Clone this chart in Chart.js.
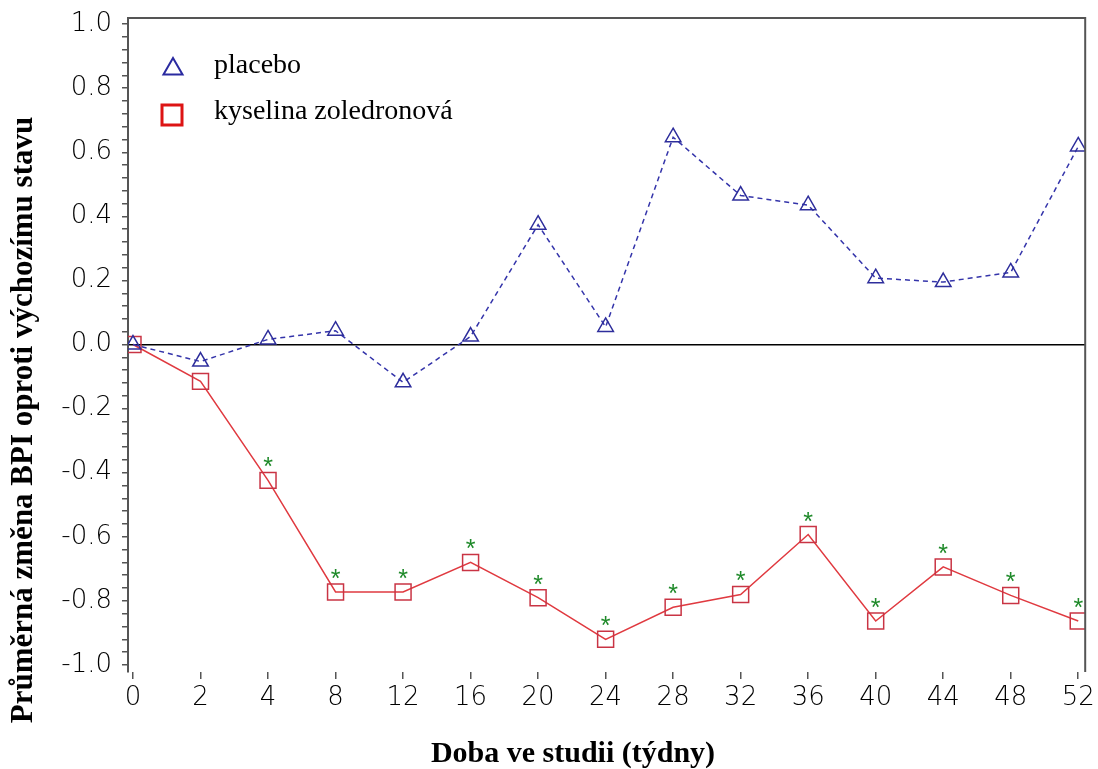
<!DOCTYPE html>
<html>
<head>
<meta charset="utf-8">
<script src="https://cdn.jsdelivr.net/npm/chart.js@4.4.1/dist/chart.umd.min.js"></script>
<style>
  body { margin: 0; background: #fff; }
  #wrap { width: 1098px; height: 769px; }
</style>
</head>
<body>
<div id="wrap"><canvas id="chart" width="1098" height="769"></canvas></div>
<script>
// week labels on the x axis (evenly spaced categories)
const weeks = ['0', '2', '4', '8', '12', '16', '20', '24', '28', '32', '36', '40', '44', '48', '52'];
// mean change of BPI from baseline
const placebo = [0, -0.053, 0.016, 0.043, -0.118, 0.025, 0.374, 0.055, 0.647, 0.465, 0.435, 0.207, 0.195, 0.225, 0.618];
const zoledronic = [0, -0.115, -0.424, -0.772, -0.772, -0.68, -0.79, -0.92, -0.82, -0.78, -0.593, -0.863, -0.694, -0.783, -0.863];
// green asterisk above the zoledronic point
const significant = [false, false, true, true, true, true, true, true, true, true, true, true, true, true, true];
const legendNames = ['placebo', 'kyselina zoledronová'];
const xTitle = 'Doba ve studii (týdny)';
const yTitle = 'Průměrná změna BPI oproti výchozímu stavu';

const blue = '#3434aa';
const red = '#e03a40';
const tickFont = { family: 'DejaVu Sans', size: 26, weight: 200 };

const extras = {
  id: 'extras',
  afterDraw(chart) {
    const { ctx, chartArea: a } = chart;
    ctx.save();

    // top and right frame
    ctx.strokeStyle = '#555';
    ctx.lineWidth = 2;
    ctx.beginPath();
    ctx.moveTo(a.left, a.top);
    ctx.lineTo(a.right, a.top);
    ctx.lineTo(a.right, a.bottom);
    ctx.stroke();

    // asterisks
    const meta = chart.getDatasetMeta(1);
    ctx.fillStyle = '#1f8a2a';
    ctx.font = '25px "Liberation Sans"';
    ctx.textAlign = 'center';
    ctx.textBaseline = 'alphabetic';
    meta.data.forEach((pt, i) => {
      if (significant[i]) ctx.fillText('*', pt.x, pt.y - 5);
    });

    // legend
    ctx.strokeStyle = '#2a2aa0';
    ctx.lineWidth = 2;
    const tx = 173, ty = 69, r = 11;
    ctx.beginPath();
    ctx.moveTo(tx, ty - r);
    ctx.lineTo(tx + r * Math.sin(Math.PI * 2 / 3), ty + r / 2);
    ctx.lineTo(tx - r * Math.sin(Math.PI * 2 / 3), ty + r / 2);
    ctx.closePath();
    ctx.stroke();
    ctx.strokeStyle = '#dd1414';
    ctx.lineWidth = 3;
    ctx.strokeRect(162, 105, 20, 20);

    ctx.fillStyle = '#000';
    ctx.textAlign = 'left';
    ctx.font = '28px "Liberation Serif"';
    ctx.fillText(legendNames[0], 214, 73);
    ctx.fillText(legendNames[1], 214, 119);

    // axis titles
    ctx.font = 'bold 30px "Liberation Serif"';
    ctx.textAlign = 'center';
    ctx.fillText(xTitle, 573, 762);
    ctx.font = 'bold 31px "Liberation Serif"';
    ctx.translate(32, 420);
    ctx.rotate(-Math.PI / 2);
    ctx.fillText(yTitle, 0, 0);
    ctx.restore();
  }
};

new Chart(document.getElementById('chart'), {
  type: 'line',
  data: {
    datasets: [
      {
        label: legendNames[0],
        data: placebo.map((v, i) => ({ x: i, y: v })),
        borderColor: blue,
        borderWidth: 1.5,
        borderDash: [5, 4],
        pointStyle: 'triangle',
        pointRadius: 9,
        pointBorderColor: '#2e2e9c',
        pointBorderWidth: 1.5,
        pointBackgroundColor: 'rgba(0,0,0,0)',
        tension: 0
      },
      {
        label: legendNames[1],
        data: zoledronic.map((v, i) => ({ x: i, y: v })),
        borderColor: red,
        borderWidth: 1.5,
        pointStyle: 'rect',
        pointRadius: 11.3,
        pointBorderColor: '#c93444',
        pointBorderWidth: 1.5,
        pointBackgroundColor: 'rgba(0,0,0,0)',
        tension: 0
      }
    ]
  },
  options: {
    responsive: false,
    animation: false,
    layout: { padding: { top: 18, right: 11, left: 0, bottom: 0 } },
    plugins: { legend: { display: false }, tooltip: { enabled: false } },
    scales: {
      x: {
        type: 'linear',
        min: -0.074,
        max: 14.103,
        border: { display: false },
        grid: { drawOnChartArea: false, tickLength: 7, tickColor: '#555', lineWidth: 1.5 },
        ticks: {
          stepSize: 1,
          includeBounds: false,
          autoSkip: false,
          maxRotation: 0,
          padding: 4,
          color: '#000',
          font: tickFont,
          callback: v => weeks[v] ?? ''
        },
        afterFit(scale) {
          scale.height = 97;
          scale.paddingLeft = 0;
          scale.paddingRight = 0;
        }
      },
      y: {
        min: -1.022,
        max: 1.019,
        border: { display: true, color: '#555', width: 2 },
        grid: {
          color: ctx => (ctx.tick && Math.abs(ctx.tick.value) < 1e-9 ? '#000' : 'rgba(0,0,0,0)'),
          lineWidth: 1.5,
          tickColor: '#555',
          tickLength: 6
        },
        ticks: {
          stepSize: 0.04,
          includeBounds: false,
          autoSkip: false,
          padding: 10,
          color: '#000',
          font: tickFont,
          callback: v => (Math.abs(v * 5 - Math.round(v * 5)) < 1e-6 ? v.toFixed(1) : '')
        },
        afterFit(scale) {
          scale.width = 128;
          scale.paddingTop = 0;
          scale.paddingBottom = 0;
        }
      }
    }
  },
  plugins: [extras]
});
</script>
</body>
</html>
